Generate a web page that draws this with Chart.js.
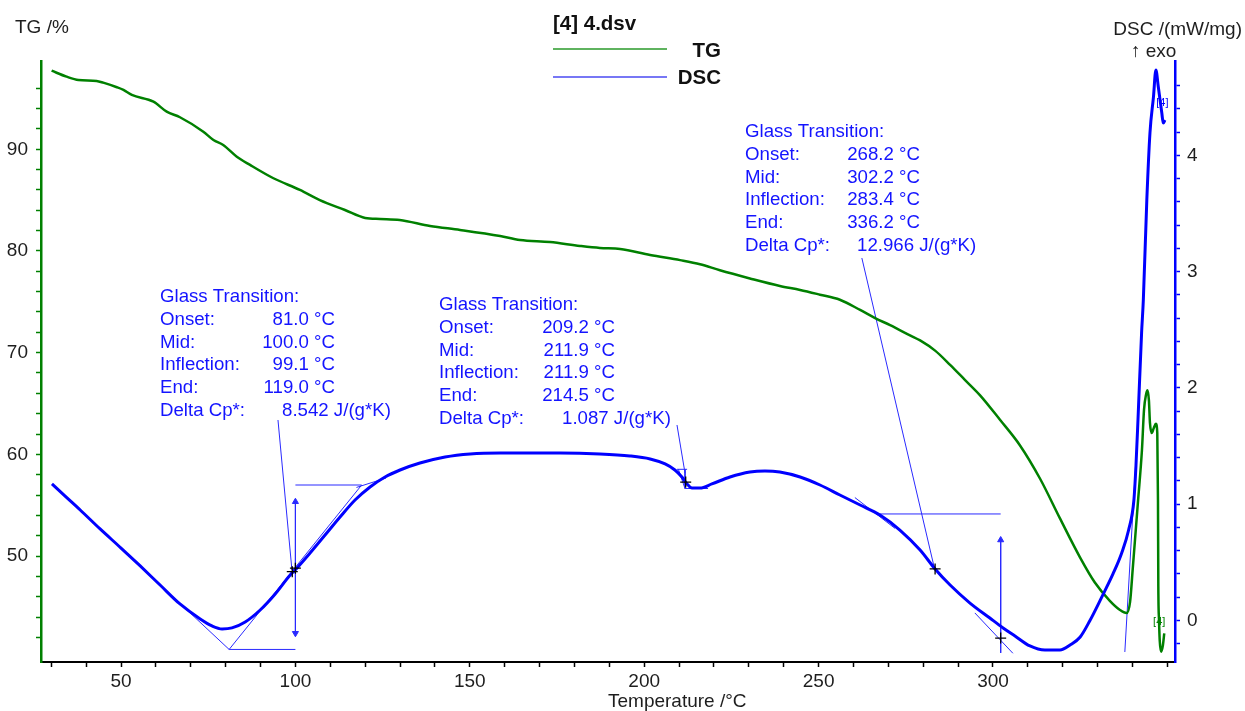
<!DOCTYPE html>
<html>
<head>
<meta charset="utf-8">
<script src="https://cdn.jsdelivr.net/npm/chart.js@4.4.1/dist/chart.umd.min.js"></script>
<style>
  html, body { margin: 0; padding: 0; background: #fff; }
  #wrap { width: 1245px; height: 711px; }
</style>
</head>
<body>
<div id="wrap"><canvas id="c" width="1245" height="711"></canvas></div>
<script>
// ---- axis ticks ----
const tempTicks = [30, 40, 50, 60, 70, 80, 90, 100, 110, 120, 130, 140, 150, 160, 170, 180, 190, 200,
                   210, 220, 230, 240, 250, 260, 270, 280, 290, 300, 310, 320, 330, 340, 350];
const tempLabels = [50, 100, 150, 200, 250, 300];
const tgTicks = [42, 44, 46, 48, 50, 52, 54, 56, 58, 60, 62, 64, 66, 68, 70, 72, 74, 76, 78, 80,
                 82, 84, 86, 88, 90, 92, 94, 96];
const tgLabels = [50, 60, 70, 80, 90];
const dscTicks = [-0.2, 0, 0.2, 0.4, 0.6, 0.8, 1, 1.2, 1.4, 1.6, 1.8, 2, 2.2, 2.4, 2.6, 2.8, 3,
                  3.2, 3.4, 3.6, 3.8, 4, 4.2, 4.4, 4.6];
const dscLabels = [0, 1, 2, 3, 4];

// ---- TG curve (mass %) ----
const tgTemp = [30.1, 34.4, 37.8, 43.0, 44.9, 48.8, 50.7, 53.1, 59.3, 63.1, 66.9, 73.6, 76.5, 79.3,
                83.2, 87.0, 93.7, 101.3, 107.0, 114.2, 120.0, 124.3, 129.9, 138.6, 147.2, 158.7,
                164.4, 173.0, 181.6, 187.3, 193.1, 201.7, 210.3, 216.0, 221.7, 230.3, 238.9, 244.7,
                250.4, 256.1, 261.9, 266.2, 270.5, 276.2, 279.1, 283.4, 287.7, 292.0, 296.3, 302.0,
                307.7, 313.5, 319.2, 324.9, 329.2, 333.5, 336.4, 338.3, 339.3, 340.1, 341.6, 342.7,
                343.3, 343.9, 344.3, 344.7, 345.0, 345.5, 346.1, 346.7, 347.1, 347.3, 347.4, 347.6,
                347.8, 348.2, 348.7, 349.1];
const tgMass = [97.73, 97.14, 96.81, 96.72, 96.55, 96.10, 95.83, 95.34, 94.68, 93.70, 93.15, 91.73,
                90.91, 90.42, 89.27, 88.46, 87.15, 86.0, 85.0, 84.03, 83.25, 83.15, 83.05, 82.46,
                82.07, 81.47, 81.08, 80.88, 80.49, 80.29, 80.2, 79.6, 79.1, 78.7, 78.1, 77.3, 76.56,
                76.17, 75.7, 75.2, 74.2, 73.4, 72.7, 71.7, 71.2, 70.2, 68.8, 67.3, 65.8, 63.4, 60.9,
                57.6, 53.7, 49.9, 47.4, 45.6, 44.7, 44.4, 45.5, 48.9, 55.5, 60.4, 64.4, 65.9, 66.3,
                65.3, 63.1, 62.1, 62.6, 63.0, 62.1, 55.5, 47.0, 43.7, 41.7, 40.6, 41.2, 42.4];

// ---- DSC curve (mW/mg) ----
const dscTemp = [30.2, 33.9, 38.3, 44.0, 50.0, 55.5, 61.2, 66.9, 72.7, 76.1, 79.0, 81.8, 85.6, 89.9,
                 94.2, 98.5, 100.2, 104.2, 108.5, 112.8, 117.1, 121.4, 125.7, 130.0, 135.7, 142.9,
                 150.1, 158.7, 167.3, 175.9, 187.3, 195.9, 201.7, 206.0, 208.8, 210.8, 212.3, 213.7,
                 216.0, 219.4, 224.6, 230.3, 234.6, 238.9, 244.7, 250.4, 256.1, 261.9, 267.6, 273.3,
                 279.1, 283.4, 287.7, 293.4, 299.1, 302.9, 306.3, 310.6, 314.9, 319.2, 322.1, 325.0,
                 327.8, 331.0, 334.4, 336.9, 338.9, 340.4, 341.0, 341.6, 342.6, 343.1, 344.1, 345.0,
                 346.0, 346.7, 347.4, 347.9, 348.4, 348.8, 349.3];
const dscHeat = [1.174, 1.071, 0.950, 0.787, 0.623, 0.469, 0.305, 0.142, 0.013, -0.047, -0.073,
                 -0.064, -0.013, 0.090, 0.228, 0.391, 0.443, 0.580, 0.735, 0.890, 1.036, 1.148,
                 1.234, 1.294, 1.354, 1.406, 1.432, 1.440, 1.440, 1.440, 1.432, 1.415, 1.389, 1.346,
                 1.294, 1.234, 1.174, 1.139, 1.139, 1.174, 1.234, 1.277, 1.286, 1.277, 1.234, 1.165,
                 1.079, 0.993, 0.907, 0.778, 0.606, 0.443, 0.305, 0.150, 0.021, -0.064, -0.133,
                 -0.219, -0.254, -0.254, -0.211, -0.142, 0.000, 0.190, 0.400, 0.580, 0.780, 1.036,
                 1.337, 1.750, 2.472, 2.756, 3.616, 4.192, 4.501, 4.733, 4.587, 4.475, 4.364, 4.278,
                 4.303];

// ---- glass transition evaluations ----
const gtOnset      = [81.0, 209.2, 268.2];
const gtMid        = [100.0, 211.9, 302.2];
const gtInflection = [99.1, 211.9, 283.4];
const gtEnd        = [119.0, 214.5, 336.2];
const gtDeltaCp    = [8.542, 1.087, 12.966];

// evaluation marks (temperature, DSC)
const markPoints = [[99.1, 0.42], [100.0, 0.45], [211.9, 1.19], [283.4, 0.443], [302.2, -0.151]];

// construction lines (temperature, DSC)
const gt1Lines = [
  [[55.4, 0.469], [81.0, -0.249]],
  [[81.0, -0.249], [119.0, 1.165]],
  [[81.0, -0.249], [100.0, -0.249]],
  [[100.0, 1.165], [119.0, 1.165]],
  [[117.5, 1.144], [126.0, 1.225]],
  [[95.0, 1.724], [99.0, 0.434]]
];
const gt1Arrow = [[100.0, 1.021], [100.0, -0.11]];
const gt2Lines = [
  [[209.4, 1.681], [211.7, 1.268]],
  [[209.4, 1.30], [212.3, 1.30]],
  [[209.8, 1.30], [211.7, 1.135]],
  [[211.7, 1.30], [211.7, 1.135]],
  [[211.7, 1.135], [218.3, 1.135]]
];
const gt3Lines = [
  [[260.4, 1.057], [271.9, 0.792]],
  [[267.6, 0.916], [302.2, 0.916]],
  [[294.8, 0.065], [305.7, -0.282]],
  [[262.4, 3.117], [283.2, 0.45]]
];
const gt3Arrow = [[302.2, 0.692], [302.2, -0.279]];
const exoLine = [[337.8, -0.271], [341.3, 1.552]];

const FONT = "'Liberation Sans', Arial, sans-serif";
const BLUE = '#0000ff';
const THIN = '#2a2aff';
const GREEN = '#008000';
const INK = '#1e1e1e';

const xy = pairs => pairs.map(p => ({ x: p[0], y: p[1] }));
const series = (xs, ys) => xs.map((v, i) => ({ x: v, y: ys[i] }));

const thinLine = pairs => ({
  data: xy(pairs), yAxisID: 'yDsc', showLine: true, pointRadius: 0,
  borderColor: THIN, borderWidth: 1, tension: 0, order: 3
});

const datasets = [
  { label: 'TG', data: series(tgTemp, tgMass), yAxisID: 'yTg', showLine: true, pointRadius: 0,
    borderColor: GREEN, borderWidth: 2.5, cubicInterpolationMode: 'monotone', order: 2 },
  { label: 'DSC', data: series(dscTemp, dscHeat), yAxisID: 'yDsc', showLine: true, pointRadius: 0,
    borderColor: BLUE, borderWidth: 3, cubicInterpolationMode: 'monotone', order: 1 },
  ...gt1Lines.map(thinLine), ...gt2Lines.map(thinLine), ...gt3Lines.map(thinLine),
  thinLine(exoLine),
  Object.assign(thinLine(gt1Arrow), {
    pointRadius: 3.5, pointStyle: 'triangle', pointRotation: [0, 180],
    pointBackgroundColor: THIN, pointBorderColor: THIN, pointBorderWidth: 1 }),
  Object.assign(thinLine(gt3Arrow), {
    pointRadius: [3.5, 0], pointStyle: 'triangle', pointRotation: 0,
    pointBackgroundColor: THIN, pointBorderColor: THIN, pointBorderWidth: 1 }),
  { label: 'marks', data: xy(markPoints), yAxisID: 'yDsc', showLine: false,
    pointStyle: 'cross', pointRadius: 5.5, borderColor: '#000', borderWidth: 1.3, order: 0 }
];

// text overlay: axis titles, legend and evaluation blocks
const rowNames = ['Glass Transition:', 'Onset:', 'Mid:', 'Inflection:', 'End:', 'Delta Cp*:'];
const blocks = [
  { left: 160, valueRight: 335, deltaLeft: 282, base: 302 },
  { left: 439, valueRight: 615, deltaLeft: 562, base: 310 },
  { left: 745, valueRight: 920, deltaLeft: 857, base: 137 }
];

const overlay = {
  id: 'overlay',
  beforeDatasetsDraw(chart) {
    const ctx = chart.ctx, x = chart.scales.x, yd = chart.scales.yDsc;
    ctx.save();
    ctx.font = '11px ' + FONT;
    ctx.textBaseline = 'alphabetic';
    ctx.fillStyle = BLUE;
    ctx.fillText('[4]', x.getPixelForValue(346.8), yd.getPixelForValue(4.42));
    ctx.fillStyle = GREEN;
    ctx.fillText('[4]', x.getPixelForValue(345.9), yd.getPixelForValue(-0.04));
    ctx.restore();
  },
  afterDraw(chart) {
    const ctx = chart.ctx;
    ctx.save();
    ctx.textBaseline = 'alphabetic';

    // axis titles
    ctx.fillStyle = INK;
    ctx.font = '19px ' + FONT;
    ctx.textAlign = 'left';
    ctx.fillText('TG /%', 15, 33);
    ctx.fillText('\u2191 exo', 1131, 57);
    ctx.fillText('Temperature /\u00b0C', 608, 707);
    ctx.textAlign = 'right';
    ctx.fillText('DSC /(mW/mg)', 1242, 35);

    // legend
    ctx.font = 'bold 20.5px ' + FONT;
    ctx.textAlign = 'left';
    ctx.fillStyle = '#111';
    ctx.fillText('[4] 4.dsv', 553, 30);
    ctx.textAlign = 'right';
    ctx.fillText('TG', 721, 57);
    ctx.fillText('DSC', 721, 83.5);
    ctx.lineWidth = 1.5;
    ctx.strokeStyle = '#2a9a2a';
    ctx.beginPath(); ctx.moveTo(553, 49); ctx.lineTo(667, 49); ctx.stroke();
    ctx.strokeStyle = '#4a4af2';
    ctx.beginPath(); ctx.moveTo(553, 77); ctx.lineTo(667, 77); ctx.stroke();

    // evaluation text blocks
    ctx.font = '18.67px ' + FONT;
    ctx.fillStyle = '#1414ff';
    const step = 22.8;
    blocks.forEach((b, i) => {
      const vals = [null, gtOnset[i], gtMid[i], gtInflection[i], gtEnd[i]];
      rowNames.forEach((name, r) => {
        const y = b.base + r * step;
        ctx.textAlign = 'left';
        ctx.fillText(name, b.left, y);
        if (r >= 1 && r <= 4) {
          ctx.textAlign = 'right';
          ctx.fillText(vals[r].toFixed(1) + ' \u00b0C', b.valueRight, y);
        } else if (r === 5) {
          ctx.textAlign = 'left';
          ctx.fillText(gtDeltaCp[i].toFixed(3) + ' J/(g*K)', b.deltaLeft, y);
        }
      });
    });
    ctx.restore();
  }
};

const tickFont = { family: FONT, size: 19 };
const isIn = (list, v) => list.some(t => Math.abs(t - v) < 1e-6);

new Chart(document.getElementById('c'), {
  type: 'scatter',
  data: { datasets },
  options: {
    responsive: false,
    animation: false,
    events: [],
    layout: { padding: { top: 61, left: 0, right: 0, bottom: 0 } },
    plugins: { legend: { display: false }, tooltip: { enabled: false } },
    scales: {
      x: {
        type: 'linear', position: 'bottom', min: 27.06, max: 352.18,
        afterFit(s) { s.height = 49; },
        afterBuildTicks(s) { s.ticks = tempTicks.map(v => ({ value: v })); },
        ticks: { autoSkip: false, maxRotation: 0, padding: 3, color: INK, font: tickFont,
                 callback: v => isIn(tempLabels, v) ? String(v) : '' },
        grid: { drawOnChartArea: false, drawTicks: true, tickLength: 5, color: '#000',
                tickColor: '#000', tickWidth: 1.5 },
        border: { color: '#000', width: 2 }
      },
      yTg: {
        type: 'linear', position: 'left', min: 39.58, max: 98.68,
        afterFit(s) { s.width = 41; },
        afterBuildTicks(s) { s.ticks = tgTicks.map(v => ({ value: v })); },
        ticks: { autoSkip: false, padding: 8, color: INK, font: tickFont,
                 callback: v => isIn(tgLabels, v) ? String(v) : '' },
        grid: { drawOnChartArea: false, drawTicks: true, tickLength: 5, color: GREEN,
                tickColor: GREEN, tickWidth: 1.5 },
        border: { color: GREEN, width: 2.5 }
      },
      yDsc: {
        type: 'linear', position: 'right', min: -0.357, max: 4.811,
        afterFit(s) { s.width = 70; },
        afterBuildTicks(s) { s.ticks = dscTicks.map(v => ({ value: v })); },
        ticks: { autoSkip: false, padding: 7, color: INK, font: tickFont,
                 callback: v => isIn(dscLabels, v) ? String(Math.round(v)) : '' },
        grid: { drawOnChartArea: false, drawTicks: true, tickLength: 5, color: BLUE,
                tickColor: BLUE, tickWidth: 1.5 },
        border: { color: BLUE, width: 2.5 }
      }
    }
  },
  plugins: [overlay]
});
</script>
</body>
</html>
